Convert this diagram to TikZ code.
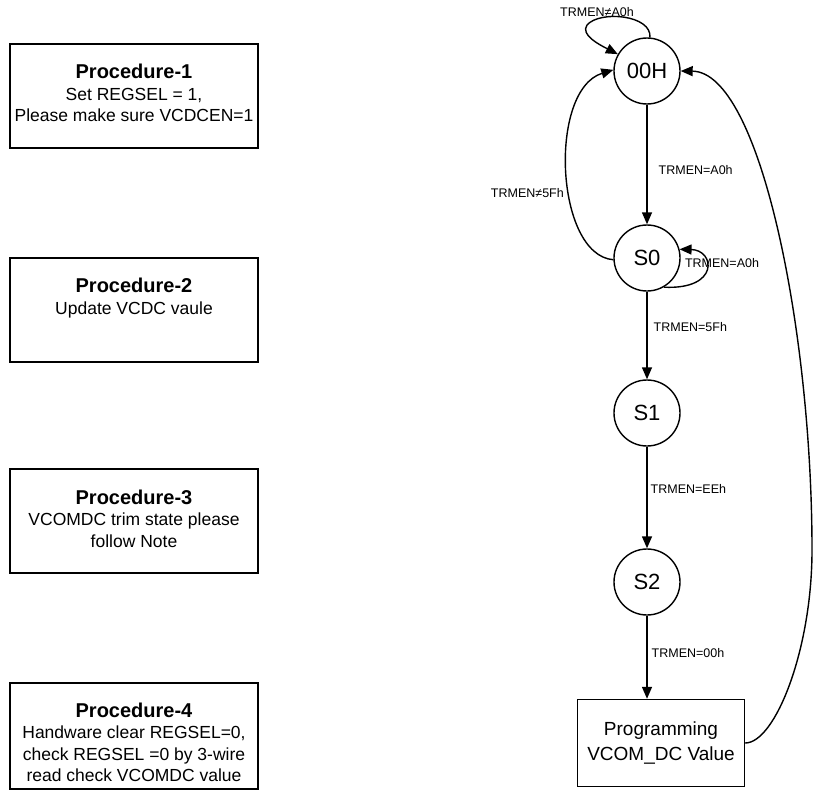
\documentclass[tikz,border=0pt]{standalone}
\usepackage{fontspec}
\setmainfont{Liberation Sans}
\usetikzlibrary{arrows.meta}

\tikzset{
  state/.style={draw,circle,minimum size=66pt,inner sep=0pt,line width=1.4pt,font=\fontsize{22}{24}\selectfont},
  procbox/.style={draw,minimum width=248pt,minimum height=104pt,line width=1.4pt},
  proctext/.style={anchor=north,inner sep=0pt,align=center,font=\fontsize{17.5}{21.5}\selectfont},
  lbl/.style={font=\fontsize{12.5}{14}\selectfont,inner sep=1pt},
  tr/.style={line width=1.4pt,-{Triangle[length=12pt,width=10pt]}}
}

\begin{document}
\begin{tikzpicture}[x=1pt,y=-1pt]
\useasboundingbox (0,0) rectangle (813,792);
% procedure boxes
\node[procbox] (p1) at (134,96) {};
\node[proctext] at ([yshift=-21pt]p1.north) {{\fontsize{20}{21}\selectfont\bfseries Procedure-1}\\Set REGSEL = 1,\\Please make sure VCDCEN=1};
\node[procbox] (p2) at (134,310) {};
\node[proctext] at ([yshift=-21pt]p2.north) {{\fontsize{20}{21}\selectfont\bfseries Procedure-2}\\Update VCDC vaule};
\node[procbox] (p3) at (134,521) {};
\node[proctext] at ([yshift=-21pt]p3.north) {{\fontsize{20}{21}\selectfont\bfseries Procedure-3}\\VCOMDC trim state please\\follow Note};
\node[procbox,minimum height=106pt] (p4) at (134,736) {};
\node[proctext] at ([yshift=-20pt]p4.north) {{\fontsize{20}{21}\selectfont\bfseries Procedure-4}\\Handware clear REGSEL=0,\\check REGSEL =0 by 3-wire\\read check VCOMDC value};

% states
\node[state] (s00) at (647,71) {00H};
\node[state] (s0) at (647,258) {S0};
\node[state] (s1) at (647,413) {S1};
\node[state] (s2) at (647,582) {S2};
\node[draw,line width=1.4pt,minimum width=167pt,minimum height=87pt,align=center,font=\fontsize{19}{25}\selectfont] (prog) at (661,743) {Programming\\VCOM\_DC Value};

% transitions
\draw[tr] (s00) -- node[lbl,right=10pt,pos=0.55] {TRMEN=A0h} (s0);
\draw[tr] (s0) -- node[lbl,right=5pt,pos=0.4] {TRMEN=5Fh} (s1);
\draw[tr] (s1) -- node[lbl,right=2pt,pos=0.42] {TRMEN=EEh} (s2);
\draw[tr] (s2) -- node[lbl,right=3pt,pos=0.45] {TRMEN=00h} (s2 |- prog.north);
\draw[tr] (s00.85) .. controls (652,15) and (600,10) .. (587,25) .. controls (580,35) and (600,45) .. (s00.150);
\node[lbl] (l1) at (597,12) {TRMEN≠A0h};
\draw[tr] (s0.183) .. controls (555,255) and (548,90) .. (s00.178);
\node[lbl,anchor=east] (l2) at (565,193) {TRMEN≠5Fh};
\draw[tr] (s0.-60) .. controls (720,290) and (715,250) .. (s0.15);
\node[lbl] (l3) at (722,263) {TRMEN=A0h};
\draw[tr] (prog.east) .. controls (775,743) and (812,650) .. (812,550) .. controls (812,330) and (760,72) .. (s00.east);
\end{tikzpicture}
\end{document}
